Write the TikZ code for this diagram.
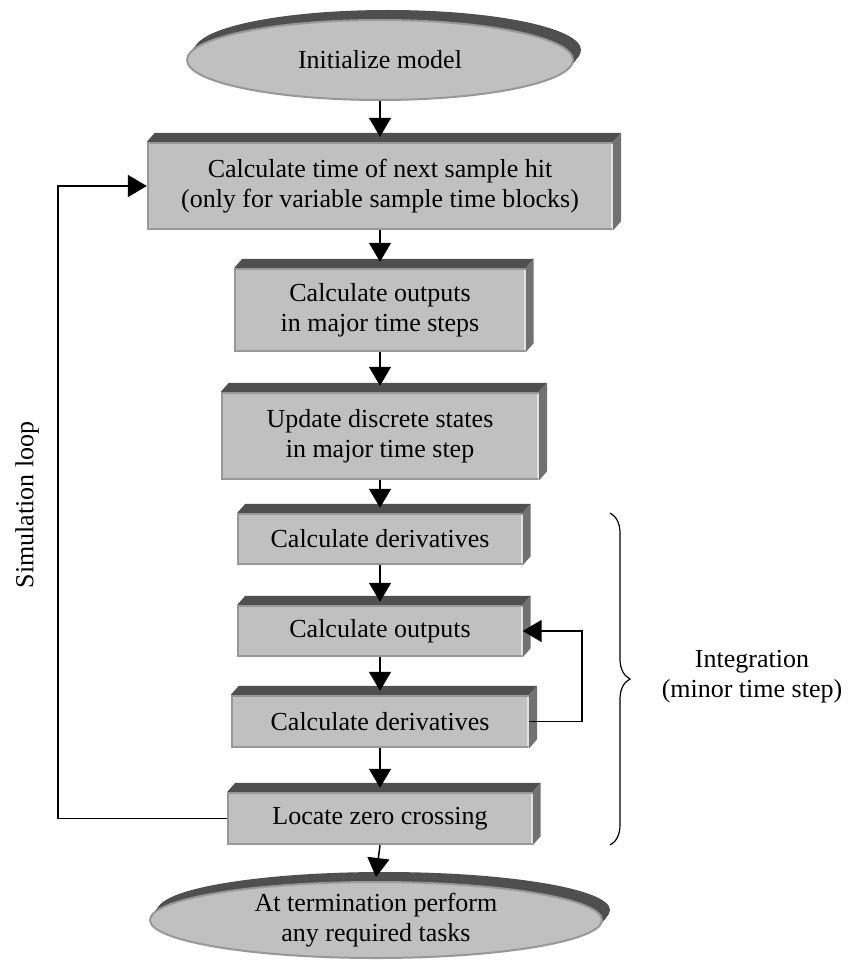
\documentclass[tikz,border=0pt]{standalone}
\usepackage{fontspec}
\setmainfont{Liberation Serif}
\usetikzlibrary{arrows.meta,shapes.geometric,calc,decorations.pathreplacing}

\definecolor{facefront}{HTML}{C0C0C0}
\definecolor{facetop}{HTML}{4F4F4F}
\definecolor{faceside}{HTML}{717171}
\definecolor{faceedge}{HTML}{989898}
\definecolor{facelight}{HTML}{E2E2E2}

\tikzset{
  x=1pt, y=-1pt,
  every node/.style={font=\fontsize{26}{30}\selectfont},
  stepbox/.style={rectangle, fill=facefront, inner sep=0pt, align=center},
  oval/.style={ellipse, fill=facefront, draw=faceedge, line width=2pt, inner sep=0pt, align=center},
  arr/.style={line width=1.5pt, -{Triangle[length=19pt,width=22pt]}},
}

% extruded top and right faces of a block, plus its bevelled rim
\newcommand{\blockdepth}[1]{%
  \fill[facetop] (#1.north west) -- ++(8,-9) -- ($(#1.north east)+(8,-9)$) -- (#1.north east) -- cycle;
  \fill[faceside] (#1.north east) -- ++(8,-9) -- ($(#1.south east)+(8,-9)$) -- (#1.south east) -- cycle;
  \draw[faceedge, line width=2pt] ($(#1.north west)+(0,1)$) -- ($(#1.north east)+(0,1)$);
  \draw[faceedge, line width=2pt] ($(#1.north west)+(1,1)$) -- ($(#1.south west)+(1,-1)$) -- ($(#1.south east)+(-1,-1)$);
  \draw[facelight, line width=2pt] ($(#1.north east)+(-1,2)$) -- ($(#1.south east)+(-1,-2)$);
}

% extruded band behind an oval terminal
\newcommand{\ovaldepth}[4]{%
  \foreach \t in {1,...,10}
    \fill[facetop] (#1+0.8*\t, #2-\t) ellipse [x radius=#3pt, y radius=#4pt];
}

\begin{document}
\begin{tikzpicture}
\useasboundingbox (0,0) rectangle (851,963);

% start terminal
\ovaldepth{380}{60}{193}{40}
\node[oval, minimum width=386pt, minimum height=80pt] (init) at (380,60) {Initialize model};

% process blocks
\node[stepbox, minimum width=466pt, minimum height=88pt] (b1) at (380,186)
  {Calculate time of next sample hit\\(only for variable sample time blocks)};
\blockdepth{b1}
\node[stepbox, minimum width=291pt, minimum height=84pt] (b2) at (380,310)
  {Calculate outputs\\in major time steps};
\blockdepth{b2}
\node[stepbox, minimum width=318pt, minimum height=88pt] (b3) at (380,436)
  {Update discrete states\\ in major time step};
\blockdepth{b3}
\node[stepbox, minimum width=285pt, minimum height=52pt] (b4) at (380,539)
  {Calculate derivatives};
\blockdepth{b4}
\node[stepbox, minimum width=285pt, minimum height=52pt] (b5) at (380,631)
  {Calculate outputs};
\blockdepth{b5}
\node[stepbox, minimum width=298pt, minimum height=53pt] (b6) at (380,721.5)
  {Calculate derivatives};
\blockdepth{b6}
\node[stepbox, minimum width=305pt, minimum height=53pt] (b7) at (380,818.5)
  {Locate zero crossing};
\blockdepth{b7}

% end terminal
\ovaldepth{376}{920}{226}{38}
\node[oval, minimum width=452pt, minimum height=76pt] (done) at (376,920) {};
\node[align=center] (donetext) at (done.center) {At termination perform\\any required tasks};

% main flow
\draw[arr] (init.south) -- ($(b1.north)+(0,-5)$);
\draw[arr] (b1.south) -- ($(b2.north)+(0,-6)$);
\draw[arr] (b2.south) -- ($(b3.north)+(0,-6)$);
\draw[arr] (b3.south) -- ($(b4.north)+(0,-5)$);
\draw[arr] (b4.south) -- ($(b5.north)+(0,-3)$);
\draw[arr] (b5.south) -- ($(b6.north)+(0,-4)$);
\draw[arr] (b6.south) -- ($(b7.north)+(0,-4)$);
\draw[arr] (b7.south) -- ($(done.north)+(0,-4)$);

% minor step iteration
\draw[arr] (b6.east) -- ++(53,0) |- (b5.east);

% simulation loop back to the top
\coordinate (loopx) at (58,0);
\draw[arr] (b7.west) -- (b7.west -| loopx) |- (b1.west);
\node[rotate=90] (simlbl) at (27,505) {Simulation loop};

% integration brace
\draw[decorate, decoration={brace, amplitude=20pt}, line width=1.2pt] (610,513) -- (610,845);
\node[align=center] (intlbl) at (752,677) {Integration\\(minor time step)};

\end{tikzpicture}
\end{document}
